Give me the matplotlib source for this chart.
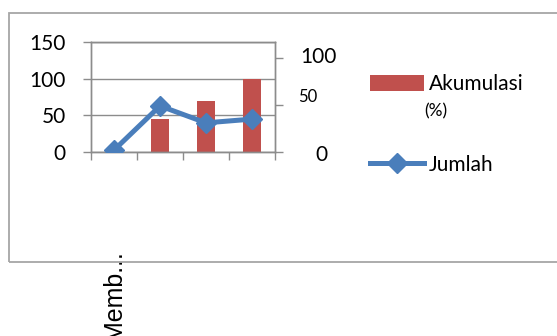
import matplotlib
matplotlib.use("Agg")
import matplotlib.pyplot as plt
import matplotlib.transforms as mtransforms
from matplotlib.patches import Rectangle

plt.rcParams['font.family'] = ['Lato', 'DejaVu Sans']

# data
categories = ["Memb...", "", "", ""]
akumulasi = [0, 45, 70, 100]      # bars, left axis
jumlah = [2, 49, 31, 35]          # line, right axis
left_ticks = [0, 50, 100, 150]
right_ticks = [0, 50, 100]
right_labels = ["0", "50", "100"]

RED = "#C0504D"
BLUE = "#4A7EBB"
GREY = "#8C8C8C"

fig = plt.figure(figsize=(5.57, 3.36), dpi=100)

# outer chart frame (runs off the right edge)
fig.patches.append(Rectangle((9 / 557, 1 - 262 / 336), 1.2, (262 - 13) / 336,
                             transform=fig.transFigure, fill=False,
                             edgecolor="#A6A6A6", linewidth=1.3, clip_on=False))

ax = fig.add_axes([91 / 557, 1 - 152 / 336, (275 - 91) / 557, (152 - 42) / 336])
x = list(range(len(categories)))
ax.bar(x, akumulasi, width=0.37, color=RED, zorder=2)
ax.set_xlim(-0.5, len(categories) - 0.5)
ax.set_ylim(0, 150)
ax.set_yticks(left_ticks)
ax.set_yticklabels([str(t) for t in left_ticks], fontsize=15)
ax.yaxis.grid(True, color=GREY, linewidth=1)
ax.set_axisbelow(True)
ax.tick_params(axis="y", length=6, width=1, color=GREY, pad=12)

# category boundaries get the ticks, labels sit at the centres
ax.set_xticks(x)
ax.set_xticklabels(categories, rotation=90, va="top", ha="center",
                   fontsize=18, family=["Liberation Sans", "DejaVu Sans"])
ax.tick_params(axis="x", which="major", length=0, pad=71)
ax.set_xticks([i - 0.5 for i in range(len(categories) + 1)], minor=True)
ax.tick_params(axis="x", which="minor", length=6, width=1, color=GREY)
for s in ax.spines.values():
    s.set_color(GREY)
    s.set_linewidth(1)

ax2 = ax.twinx()
ax2.plot(x, jumlah, color=BLUE, linewidth=3.6, marker="D", markersize=10.5,
         markeredgecolor=BLUE, markerfacecolor=BLUE, zorder=3)
ax2.set_ylim(0, 117)
ax2.set_yticks(right_ticks)
ax2.set_yticklabels([])
ax2.tick_params(axis="y", length=6, width=1, color=GREY)
for s in ax2.spines.values():
    s.set_color(GREY)
    s.set_linewidth(1)

# right axis labels, each nudged a bit on its own
label_style = {"0": (29, -2, 15), "50": (16.5, 5.8, 12), "100": (18.5, 0.5, 15)}
trans = mtransforms.blended_transform_factory(ax2.transAxes, ax2.transData)
for val, lab in zip(right_ticks, right_labels):
    dx, dy, fs = label_style[lab]
    off = mtransforms.offset_copy(trans, fig=fig, x=dx, y=dy, units="points")
    ax2.text(1, val, lab, transform=off, ha="left", va="center", fontsize=fs,
             clip_on=False)

# legend
h1 = ax.patches[0]
h2 = ax2.lines[0]
leg = fig.legend([h1, h2], ["Akumulasi", "Jumlah"], loc="upper left",
                 bbox_to_anchor=(360 / 557, 1 - 64 / 336), frameon=False,
                 fontsize=15, handlelength=2.55, handleheight=0.8,
                 handletextpad=0.25, labelspacing=2.9, borderpad=0)
fig.text(424 / 557, 1 - 111 / 336, "(%)", fontsize=12.5, va="center", ha="left")

fig.savefig("out.png", dpi=100)
